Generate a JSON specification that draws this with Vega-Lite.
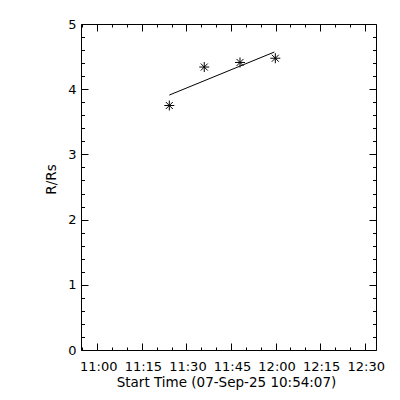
{
  "$schema": "https://vega.github.io/schema/vega-lite/v6.json",
  "width": 295,
  "height": 326,
  "autosize": {"type": "none"},
  "padding": {"left": 81, "top": 24, "right": 24, "bottom": 50},
  "background": "white",
  "config": {
    "view": {"stroke": null},
    "font": "DejaVu Sans",
    "axis": {
      "labelFont": "DejaVu Sans",
      "titleFont": "DejaVu Sans",
      "labelColor": "black",
      "titleColor": "black",
      "domainColor": "black",
      "tickColor": "black",
      "grid": false,
      "labelFontSize": 13,
      "titleFontSize": 13.5,
      "titleFontWeight": "normal"
    }
  },
  "datasets": {
    "points": [
      {"time": "2025-09-07T11:24:14", "r": 3.75},
      {"time": "2025-09-07T11:36:00", "r": 4.34},
      {"time": "2025-09-07T11:48:02", "r": 4.41},
      {"time": "2025-09-07T11:59:55", "r": 4.475}
    ],
    "fit": [
      {"time": "2025-09-07T11:24:14", "r": 3.91},
      {"time": "2025-09-07T11:59:35", "r": 4.57}
    ]
  },
  "resolve": {"axis": {"x": "independent", "y": "independent"}},
  "layer": [
    {
      "data": {"name": "points"},
      "mark": {"type": "point", "opacity": 0},
      "encoding": {
        "x": {
          "field": "time", "type": "temporal",
          "scale": {"domain": [
            {"year": 2025, "month": 9, "date": 7, "hours": 10, "minutes": 54, "seconds": 31},
            {"year": 2025, "month": 9, "date": 7, "hours": 12, "minutes": 33, "seconds": 48}
          ]},
          "axis": {
            "orient": "bottom", "labels": false, "domain": false, "title": null,
            "tickSize": -3,
            "values": [
              {"year": 2025, "month": 9, "date": 7, "hours": 10, "minutes": 55},
              {"year": 2025, "month": 9, "date": 7, "hours": 11, "minutes": 5},
              {"year": 2025, "month": 9, "date": 7, "hours": 11, "minutes": 10},
              {"year": 2025, "month": 9, "date": 7, "hours": 11, "minutes": 20},
              {"year": 2025, "month": 9, "date": 7, "hours": 11, "minutes": 25},
              {"year": 2025, "month": 9, "date": 7, "hours": 11, "minutes": 35},
              {"year": 2025, "month": 9, "date": 7, "hours": 11, "minutes": 40},
              {"year": 2025, "month": 9, "date": 7, "hours": 11, "minutes": 50},
              {"year": 2025, "month": 9, "date": 7, "hours": 11, "minutes": 55},
              {"year": 2025, "month": 9, "date": 7, "hours": 12, "minutes": 5},
              {"year": 2025, "month": 9, "date": 7, "hours": 12, "minutes": 10},
              {"year": 2025, "month": 9, "date": 7, "hours": 12, "minutes": 20},
              {"year": 2025, "month": 9, "date": 7, "hours": 12, "minutes": 25}
            ]
          }
        },
        "y": {
          "field": "r", "type": "quantitative",
          "scale": {"domain": [0, 5], "nice": false, "zero": false},
          "axis": {
            "orient": "left", "labels": false, "domain": false, "title": null,
            "tickSize": -3.5,
            "values": [0.2, 0.4, 0.6, 0.8, 1.2, 1.4, 1.6, 1.8, 2.2, 2.4, 2.6, 2.8, 3.2, 3.4, 3.6, 3.8, 4.2, 4.4, 4.6, 4.8]
          }
        }
      }
    },
    {
      "data": {"name": "points"},
      "mark": {"type": "point", "opacity": 0},
      "encoding": {
        "x": {
          "field": "time", "type": "temporal",
          "axis": {
            "orient": "top", "labels": false, "domain": false, "title": null,
            "tickSize": -3,
            "values": [
              {"year": 2025, "month": 9, "date": 7, "hours": 10, "minutes": 55},
              {"year": 2025, "month": 9, "date": 7, "hours": 11, "minutes": 5},
              {"year": 2025, "month": 9, "date": 7, "hours": 11, "minutes": 10},
              {"year": 2025, "month": 9, "date": 7, "hours": 11, "minutes": 20},
              {"year": 2025, "month": 9, "date": 7, "hours": 11, "minutes": 25},
              {"year": 2025, "month": 9, "date": 7, "hours": 11, "minutes": 35},
              {"year": 2025, "month": 9, "date": 7, "hours": 11, "minutes": 40},
              {"year": 2025, "month": 9, "date": 7, "hours": 11, "minutes": 50},
              {"year": 2025, "month": 9, "date": 7, "hours": 11, "minutes": 55},
              {"year": 2025, "month": 9, "date": 7, "hours": 12, "minutes": 5},
              {"year": 2025, "month": 9, "date": 7, "hours": 12, "minutes": 10},
              {"year": 2025, "month": 9, "date": 7, "hours": 12, "minutes": 20},
              {"year": 2025, "month": 9, "date": 7, "hours": 12, "minutes": 25}
            ]
          }
        },
        "y": {
          "field": "r", "type": "quantitative",
          "axis": {
            "orient": "right", "labels": false, "domain": false, "title": null,
            "tickSize": -3.5,
            "values": [0.2, 0.4, 0.6, 0.8, 1.2, 1.4, 1.6, 1.8, 2.2, 2.4, 2.6, 2.8, 3.2, 3.4, 3.6, 3.8, 4.2, 4.4, 4.6, 4.8]
          }
        }
      }
    },
    {
      "data": {"name": "fit"},
      "mark": {"type": "line", "color": "black", "strokeWidth": 1},
      "encoding": {
        "x": {
          "field": "time", "type": "temporal",
          "axis": {
            "orient": "top", "labels": false, "title": null,
            "tickSize": -7,
            "values": [
              {"year": 2025, "month": 9, "date": 7, "hours": 11, "minutes": 0},
              {"year": 2025, "month": 9, "date": 7, "hours": 11, "minutes": 15},
              {"year": 2025, "month": 9, "date": 7, "hours": 11, "minutes": 30},
              {"year": 2025, "month": 9, "date": 7, "hours": 11, "minutes": 45},
              {"year": 2025, "month": 9, "date": 7, "hours": 12, "minutes": 0},
              {"year": 2025, "month": 9, "date": 7, "hours": 12, "minutes": 15},
              {"year": 2025, "month": 9, "date": 7, "hours": 12, "minutes": 30}
            ]
          }
        },
        "y": {
          "field": "r", "type": "quantitative",
          "axis": {
            "orient": "right", "labels": false, "title": null,
            "tickSize": -7,
            "values": [0, 1, 2, 3, 4, 5]
          }
        }
      }
    },
    {
      "data": {"name": "points"},
      "mark": {
        "type": "point",
        "shape": "M-1,0L1,0M0,-1L0,1M-0.7,-0.7L0.7,0.7M-0.7,0.7L0.7,-0.7",
        "filled": false,
        "stroke": "black",
        "strokeWidth": 1,
        "opacity": 1,
        "size": 100
      },
      "encoding": {
        "x": {
          "field": "time", "type": "temporal",
          "axis": {
            "orient": "bottom",
            "format": "%H:%M",
            "tickSize": -7,
            "labelPadding": 17,
            "labelOffset": 1,
            "labelFlush": false,
            "labelOverlap": false,
            "title": "Start Time (07-Sep-25 10:54:07)",
            "titleX": 145,
            "titleY": 25,
            "titleBaseline": "top",
            "values": [
              {"year": 2025, "month": 9, "date": 7, "hours": 11, "minutes": 0},
              {"year": 2025, "month": 9, "date": 7, "hours": 11, "minutes": 15},
              {"year": 2025, "month": 9, "date": 7, "hours": 11, "minutes": 30},
              {"year": 2025, "month": 9, "date": 7, "hours": 11, "minutes": 45},
              {"year": 2025, "month": 9, "date": 7, "hours": 12, "minutes": 0},
              {"year": 2025, "month": 9, "date": 7, "hours": 12, "minutes": 15},
              {"year": 2025, "month": 9, "date": 7, "hours": 12, "minutes": 30}
            ]
          }
        },
        "y": {
          "field": "r", "type": "quantitative",
          "axis": {
            "orient": "left",
            "tickSize": -7,
            "labelPadding": 12,
            "labelFlush": false,
            "labelOverlap": false,
            "format": "d",
            "values": [0, 1, 2, 3, 4, 5],
            "title": "R/Rs",
            "titleX": -30,
            "titleY": 155,
            "titleBaseline": "middle"
          }
        }
      }
    }
  ]
}
